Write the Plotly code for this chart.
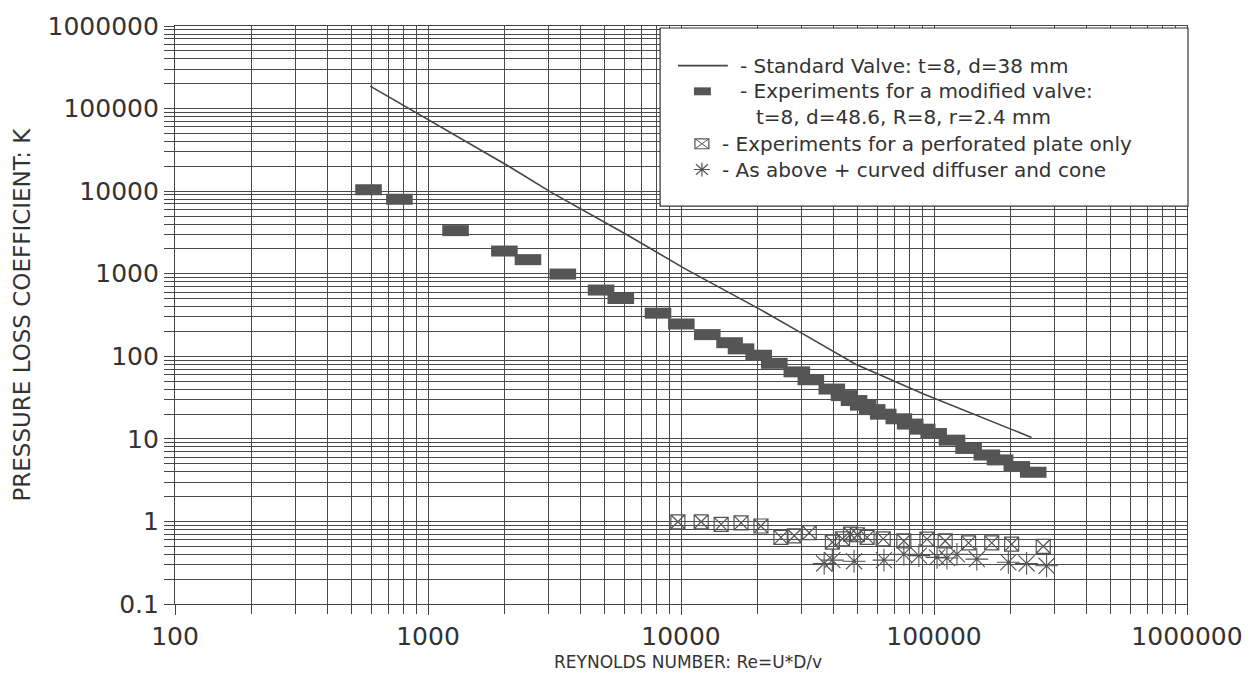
import plotly.graph_objects as go

# Standard valve curve
std_re = [591, 1009, 2084, 3083, 6186, 10350, 20700, 30700, 49000, 91000, 143000, 243000]
std_k = [187000, 72600, 20000, 9600, 2897, 1153, 365, 183, 80, 34.9, 20.1, 10.4]

# Modified valve experiments
mod_re = [582, 771, 1285, 2004, 2484, 3411, 4831, 5781, 8110, 10030, 12700, 15560,
          17270, 20280, 23380, 28700, 32600, 39450, 44100, 48300, 52500, 57000,
          63000, 72600, 80500, 89800, 99700, 117800, 137000, 161800, 182400,
          212500, 246700]
mod_k = [10400, 7980, 3325, 1882, 1480, 991, 634, 501, 333, 246, 183, 146,
         123, 103, 82.2, 64.8, 52.0, 40.1, 33.4, 29.1, 25.6, 22.6,
         19.9, 17.5, 15.1, 13.1, 11.6, 9.64, 7.65, 6.38, 5.56,
         4.62, 3.94]

# Perforated plate only
perf_re = [9720, 12020, 14410, 17270, 20700, 24830, 28040, 32130, 39650, 43500,
           46800, 49800, 54400, 63000, 76000, 93800, 110700, 137000, 169100,
           202700, 270300]
perf_k = [0.99, 0.99, 0.92, 0.96, 0.88, 0.64, 0.67, 0.73, 0.56, 0.615,
          0.70, 0.69, 0.64, 0.615, 0.58, 0.61, 0.58, 0.55, 0.55,
          0.53, 0.50]

# Perforated plate + curved diffuser and cone
diff_re = [36800, 39650, 48300, 63400, 76000, 87100, 102800, 112500, 123200,
           147600, 196700, 232300, 278600]
diff_k = [0.31, 0.34, 0.33, 0.34, 0.40, 0.385, 0.367, 0.36, 0.40,
          0.35, 0.32, 0.31, 0.29]

x_ticks = [100, 1000, 10000, 100000, 1000000]
x_labels = ["100", "1000", "10000", "100000", "1000000"]
y_ticks = [0.1, 1, 10, 100, 1000, 10000, 100000, 1000000]
y_labels = ["0.1", "1", "10", "100", "1000", "10000", "100000", "1000000"]

legend_rows = [
    "- Standard Valve: t=8, d=38 mm",
    "- Experiments for a modified valve:",
    "t=8, d=48.6, R=8, r=2.4 mm",
    "- Experiments for a perforated plate only",
    "- As above + curved diffuser and cone",
]

FONT = "DejaVu Sans, Liberation Sans, Arial, sans-serif"
INK = "#333333"
GRID = "#4a4a4a"
MARK = "#555555"

fig = go.Figure()
fig.add_trace(go.Scatter(x=std_re, y=std_k, mode="lines",
                         line=dict(color="#444444", width=1.6), showlegend=False))
fig.add_trace(go.Scatter(x=mod_re, y=mod_k, mode="markers",
                         marker=dict(symbol="line-ew", size=19, color=MARK,
                                     line=dict(color=MARK, width=11)),
                         showlegend=False))
fig.add_trace(go.Scatter(x=perf_re, y=perf_k, mode="markers",
                         marker=dict(symbol="square-x-open", size=14, color=MARK,
                                     line=dict(color=MARK, width=1.2)),
                         showlegend=False))
fig.add_trace(go.Scatter(x=diff_re, y=diff_k, mode="markers",
                         marker=dict(symbol="asterisk-open", size=19, color=MARK,
                                     line=dict(color=MARK, width=1.1)),
                         showlegend=False))

x_minor = [m * 10 ** e for e in range(2, 6) for m in range(2, 10)]
y_minor = [m * 10.0 ** e for e in range(-1, 6) for m in range(2, 10)]

axis_common = dict(
    showgrid=True, gridcolor=GRID, gridwidth=1.1,
    showline=True, mirror=True, linecolor="#444444", linewidth=1.2,
    ticks="outside", ticklen=10, tickcolor="#444444", tickwidth=1.2,
    tickfont=dict(family=FONT, size=25, color=INK),
    zeroline=False,
)

fig.update_xaxes(type="log", range=[2, 6], tickvals=x_ticks, ticktext=x_labels,
                 minor=dict(tickvals=x_minor, ticks="outside", ticklen=9,
                            tickcolor="#444444", showgrid=True, gridcolor=GRID,
                            gridwidth=1.1),
                 **axis_common)
fig.update_yaxes(type="log", range=[-1, 6], tickvals=y_ticks, ticktext=y_labels,
                 minor=dict(tickvals=y_minor, ticks="outside", ticklen=10,
                            tickcolor="#444444", showgrid=True, gridcolor=GRID,
                            gridwidth=1.1),
                 **axis_common)

L, R, T, B = 175, 64, 20, 74
W, H = 1255, 678
pw, ph = W - L - R, H - T - B


def px(xp):
    return (xp - L) / pw


def py(yp):
    return (H - B - yp) / ph


# asterisk legend glyph as a path (paper coordinates)
cx, cy, rx, ry = 704, 165, 8, 7
ast_path = " ".join([
    f"M{px(cx - rx)},{py(cy)} L{px(cx + rx)},{py(cy)}",
    f"M{px(cx)},{py(cy - ry)} L{px(cx)},{py(cy + ry)}",
    f"M{px(cx - rx * 0.75)},{py(cy - ry * 0.75)} L{px(cx + rx * 0.75)},{py(cy + ry * 0.75)}",
    f"M{px(cx - rx * 0.75)},{py(cy + ry * 0.75)} L{px(cx + rx * 0.75)},{py(cy - ry * 0.75)}",
])
# boxed-x legend glyph
bx0, bx1, by0, by1 = 697, 711, 134, 144
box_path = (f"M{px(bx0)},{py(by0)} L{px(bx1)},{py(by1)} "
            f"M{px(bx0)},{py(by1)} L{px(bx1)},{py(by0)}")

shapes = [
    dict(type="rect", xref="paper", yref="paper", x0=px(662), x1=px(1192),
         y0=py(202), y1=py(22), fillcolor="white", line=dict(color="#333333", width=1.2),
         layer="above"),
    dict(type="line", xref="paper", yref="paper", x0=px(680), x1=px(730),
         y0=py(60), y1=py(60), line=dict(color="#444444", width=1.6), layer="above"),
    dict(type="rect", xref="paper", yref="paper", x0=px(696), x1=px(713),
         y0=py(90), y1=py(82), fillcolor=MARK, line=dict(width=0), layer="above"),
    dict(type="rect", xref="paper", yref="paper", x0=px(bx0), x1=px(bx1),
         y0=py(by1), y1=py(by0), fillcolor="rgba(0,0,0,0)",
         line=dict(color=MARK, width=1.2), layer="above"),
    dict(type="path", xref="paper", yref="paper", path=box_path,
         line=dict(color=MARK, width=1), layer="above"),
    dict(type="path", xref="paper", yref="paper", path=ast_path,
         line=dict(color=MARK, width=1.2), layer="above"),
]

row_y = [60, 86, 112, 139, 165]
row_x = [740, 740, 756, 722, 722]
annotations = []
for txt, yy, xx in zip(legend_rows, row_y, row_x):
    annotations.append(dict(xref="paper", yref="paper", x=px(xx), y=py(yy),
                            xanchor="left", yanchor="middle", showarrow=False,
                            text=txt, font=dict(family=FONT, size=20, color=INK)))

annotations.append(dict(xref="paper", yref="paper", x=px(21), y=py(312), textangle=-90,
                        xanchor="center", yanchor="middle", showarrow=False,
                        text="PRESSURE LOSS COEFFICIENT: K",
                        font=dict(family=FONT, size=23, color=INK)))
annotations.append(dict(xref="paper", yref="paper", x=px(690), y=py(663),
                        xanchor="center", yanchor="middle", showarrow=False,
                        text="REYNOLDS NUMBER: Re=U*D/v",
                        font=dict(family=FONT, size=17, color=INK)))

fig.update_layout(
    width=W, height=H,
    margin=dict(l=L, r=R, t=T, b=B),
    plot_bgcolor="white", paper_bgcolor="white",
    shapes=shapes, annotations=annotations,
    showlegend=False,
)

fig.write_html("out.html",
               config={"displayModeBar": False},
               post_script="document.body.style.margin='0';"
                           "document.body.style.overflow='hidden';")
